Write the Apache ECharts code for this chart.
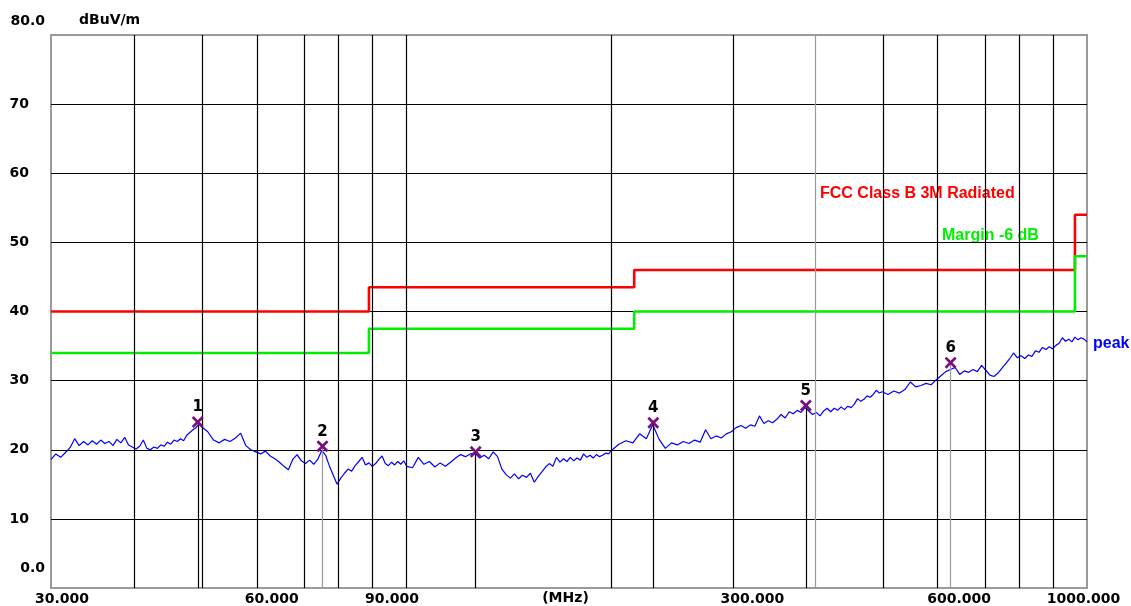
<!DOCTYPE html>
<html><head><meta charset="utf-8">
<script src="https://cdn.jsdelivr.net/npm/echarts@6/dist/echarts.min.js"></script>
<style>html,body{margin:0;padding:0;background:#fff}#c{width:1131px;height:606px}</style>
</head><body><div id="c"></div>
<script>
// ---------- data ----------
const yTicks = [0, 10, 20, 30, 40, 50, 60, 70, 80];
const gridFreqs = [40, 50, 60, 70, 80, 90, 100, 200, 300, 400, 500, 600, 700, 800, 900];
const xLabelFreqs = [30, 60, 90, 300, 600, 1000];
const xLabelTexts = ['30.000', '60.000', '90.000', '300.000', '600.000', '1000.000'];

const limitFreq = [30, 88, 216, 960, 1000];
const limitLevel = [40, 43.5, 46, 54, 54];
const marginLevel = [34, 37.5, 40, 48, 48];

const peakFreq = [
  30,30.5,31,31.5,32,32.5,33,33.5,34,34.5,35,35.5,36,36.5,37,37.5,38,38.5,39,39.5,
  40,40.5,41,41.5,42,42.5,43,43.5,44,44.5,45,45.5,46,46.5,47,47.5,48,48.5,49,49.5,50,
  51,52,53,54,55,56,57,58,59,60,61,62,63,64,65,66,67,68,69,70,71,72,73,74,75,
  76,77,78,79,80,81,82,83,84,85,86,87,88,89,90,91,92,93,94,95,96,97,98,99,100,
  102,104,106,108,110,112,114,116,118,120,122,124,126,128,130,132,134,136,138,140,
  142,144,146,148,150,152,154,156,158,160,162,164,166,168,170,172,174,176,178,180,
  182,184,186,188,190,192,194,196,198,200,
  205,210,215,220,225,230,235,240,245,250,255,260,265,270,275,280,285,290,295,300,
  305,310,315,320,325,330,335,340,345,350,355,360,365,370,375,380,385,390,395,400,
  405,410,415,420,425,430,435,440,445,450,455,460,465,470,475,480,485,490,495,500,
  510,520,530,540,550,560,570,580,590,600,610,620,630,640,650,660,670,680,690,700,
  710,720,730,740,750,760,770,780,790,800,810,820,830,840,850,860,870,880,890,900,
  910,920,930,940,950,960,970,980,990,1000
];
const peakLevel = [
  18.6,19.4,18.9,19.6,20.3,21.6,20.6,21.2,20.7,21.3,20.8,21.4,20.9,21.2,20.6,21.5,21.0,21.8,20.7,20.4,
  20.1,20.5,21.4,20.2,20.0,20.4,20.2,20.7,20.5,21.1,20.8,21.4,21.2,21.6,21.3,22.1,22.5,22.9,23.2,23.7,23.3,
  22.6,21.4,21.0,21.5,21.2,21.7,22.4,20.6,20.0,19.7,19.4,19.8,19.1,18.7,18.2,17.6,17.1,18.6,19.3,18.4,18.0,18.5,17.9,18.6,19.9,
  19.2,17.6,16.3,15.0,15.9,16.6,17.2,16.9,17.7,18.3,18.9,17.8,18.1,17.6,18.0,18.6,19.1,18.0,17.7,18.2,17.8,18.3,17.9,18.4,17.6,
  17.4,18.9,17.9,18.3,17.5,18.1,17.6,18.2,18.8,19.3,19.0,19.4,19.5,18.8,19.2,18.7,19.7,19.0,17.2,16.4,
  15.9,16.5,15.8,16.3,16.0,16.6,15.3,16.1,16.8,17.5,18.0,17.6,18.9,18.2,18.7,18.3,18.9,18.4,18.8,18.5,
  19.4,18.9,19.2,18.8,19.3,19.0,19.2,19.5,19.4,19.9,
  20.8,21.3,21.0,22.3,21.6,23.6,21.5,20.2,21.0,20.7,21.2,20.9,21.4,21.1,22.9,21.6,22.0,21.7,22.3,22.6,
  23.2,23.5,23.1,23.6,23.4,24.9,23.8,24.2,23.9,24.4,25.1,24.6,25.5,25.2,25.7,25.4,26.1,25.6,25.1,25.4,
  24.9,25.6,26.0,25.5,26.0,25.7,26.2,25.8,26.3,26.1,26.6,27.4,27.0,27.3,27.8,27.6,28.0,28.6,28.2,28.4,
  28.0,28.5,28.2,28.7,29.8,29.1,29.3,29.6,29.4,30.1,30.7,31.3,31.6,31.9,30.9,31.4,31.2,31.6,31.3,32.2,
  31.5,30.8,30.6,31.1,31.8,32.5,33.2,34.0,33.3,33.6,33.2,33.7,33.5,34.3,34.1,34.8,34.5,34.9,34.6,35.1,
  35.4,36.2,35.7,36.0,35.6,36.3,35.9,36.2,36.0,35.6
];

const markerFreq = [49.3, 75.2, 126.3, 230.4, 386.1, 630.3];
const markerLevel = [24.0, 20.5, 19.7, 23.9, 26.4, 32.6];
const markerNames = ['1', '2', '3', '4', '5', '6'];

// ---------- chart ----------
const lg = f => Math.log10(f);
const FONT = 'DejaVu Sans';
const LFONT = 'Liberation Sans';
const purple = '#7a0f7a';
const markerLineColors = ['#000', '#999', '#000', '#000', '#000', '#999'];

const xy = (fs, vs) => fs.map((f, i) => [lg(f), vs[i]]);

const tokenBase = { fontFamily: FONT, fontWeight: 'bold', fontSize: 14, color: '#000', lineHeight: 16 };

const chart = echarts.init(document.getElementById('c'), null, { renderer: 'canvas' });
chart.setOption({
  animation: false,
  backgroundColor: '#fff',
  grid: { left: 51, right: 44, top: 35, bottom: 18, containLabel: false, outerBoundsMode: 'none',
    show: true, borderColor: '#9a9a9a', borderWidth: 2, backgroundColor: '#fff' },
  xAxis: {
    type: 'value', min: lg(30), max: lg(1000),
    axisLine: { show: false }, axisTick: { show: false }, splitLine: { show: false },
    name: '(MHz)', nameLocation: 'middle', nameGap: 10, nameMoveOverlap: false,
    nameTextStyle: { fontFamily: FONT, fontWeight: 'bold', fontSize: 14, color: '#000', verticalAlign: 'middle', padding: [0, 7, 0, 0] },
    axisLabel: {
      customValues: xLabelFreqs.map(lg),
      margin: 3,
      formatter: function (v) {
        let best = 0;
        xLabelFreqs.forEach((f, i) => { if (Math.abs(lg(f) - v) < Math.abs(lg(xLabelFreqs[best]) - v)) best = i; });
        return '{p' + best + '|' + xLabelTexts[best] + '}';
      },
      rich: {
        p0: Object.assign({ padding: [0, 0, 0, 22] }, tokenBase),
        p1: Object.assign({ padding: [0, 0, 0, 32] }, tokenBase),
        p2: Object.assign({ padding: [0, 0, 0, 33] }, tokenBase),
        p3: Object.assign({ padding: [0, 0, 0, 42] }, tokenBase),
        p4: Object.assign({ padding: [0, 0, 0, 46] }, tokenBase),
        p5: Object.assign({ padding: [0, 7, 0, 0] }, tokenBase)
      }
    }
  },
  yAxis: {
    type: 'value', min: 0, max: 80, interval: 10,
    axisLine: { show: false }, axisTick: { show: false },
    splitLine: { show: true, showMinLine: false, showMaxLine: false, lineStyle: { color: '#000', width: 1.2 } },
    name: 'dBuV/m', nameLocation: 'end', nameGap: 15, nameMoveOverlap: false,
    nameTextStyle: { fontFamily: FONT, fontWeight: 'bold', fontSize: 14, color: '#000', align: 'left', verticalAlign: 'middle', padding: [0, 0, 0, 28] },
    axisLabel: {
      align: 'right', margin: 6,
      formatter: function (v) {
        if (v === 80) return '{a|80.0}\n{s1| }';
        if (v === 0) return '{a|0.0}\n{s2| }';
        return '{b|' + v + '}';
      },
      rich: {
        a: Object.assign({}, tokenBase),
        b: Object.assign({ padding: [0, 16, 0, 0] }, tokenBase),
        s1: { fontSize: 1, lineHeight: 27 },
        s2: { fontSize: 1, lineHeight: 39 }
      }
    }
  },
  graphic: [
    { type: 'text', left: 820, top: 186, silent: true,
      style: { text: 'FCC Class B 3M Radiated', fill: '#ff0000', font: 'bold 16px "Liberation Sans"' } },
    { type: 'text', left: 942, top: 228, silent: true,
      style: { text: 'Margin -6 dB', fill: '#00ee00', font: 'bold 16px "Liberation Sans"' } }
  ],
  series: [
    { // vertical log grid lines
      type: 'line', data: [], silent: true, z: 1,
      markLine: {
        silent: true, symbol: 'none', animation: false,
        label: { show: false },
        data: gridFreqs.map(f => ({ xAxis: lg(f), lineStyle: { color: f === 400 ? '#9a9a9a' : '#000', width: 1.2, type: 'solid' } }))
      }
    },
    { // marker drop lines
      type: 'line', data: [], silent: true, z: 2,
      markLine: {
        silent: true, symbol: 'none', animation: false,
        label: { show: false },
        data: markerFreq.map((f, i) => [
          { coord: [lg(f), markerLevel[i]], lineStyle: { color: markerLineColors[i], width: 1.2, type: 'solid' } },
          { coord: [lg(f), 0] }
        ])
      }
    },
    {
      name: 'limit', type: 'line', step: 'end', z: 3, symbol: 'none', silent: true,
      data: xy(limitFreq, limitLevel),
      lineStyle: { color: '#ff0000', width: 2.6 }
    },
    {
      name: 'margin', type: 'line', step: 'end', z: 3, symbol: 'none', silent: true,
      data: xy(limitFreq, marginLevel),
      lineStyle: { color: '#00ee00', width: 2.6 }
    },
    {
      name: 'peak', type: 'line', z: 4, symbol: 'none', silent: true,
      data: xy(peakFreq, peakLevel),
      lineStyle: { color: '#0000ff', width: 1.2 },
      endLabel: { show: true, formatter: 'peak', distance: 6, color: '#0000ff',
        fontFamily: LFONT, fontWeight: 'bold', fontSize: 16, offset: [0, 2] }
    },
    {
      name: 'markers', type: 'scatter', z: 5, silent: true,
      data: xy(markerFreq, markerLevel),
      symbol: 'path://M0,1.6L1.6,0L5,3.4L8.4,0L10,1.6L6.6,5L10,8.4L8.4,10L5,6.6L1.6,10L0,8.4L3.4,5Z',
      symbolSize: [12, 12],
      itemStyle: { color: purple, opacity: 1 },
      label: { show: true, position: 'top', distance: 1,
        formatter: p => markerNames[p.dataIndex],
        fontFamily: FONT, fontWeight: 'bold', fontSize: 15, color: '#000' }
    }
  ]
});
</script>
</body></html>
